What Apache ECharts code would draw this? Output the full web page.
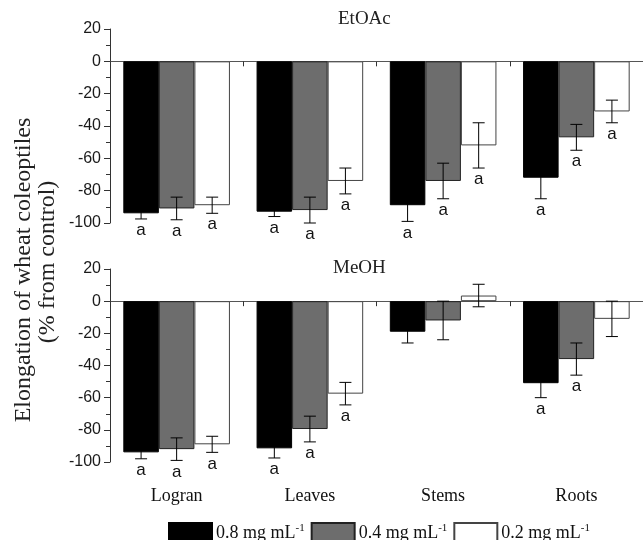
<!DOCTYPE html>
<html>
<head>
<meta charset="utf-8">
<script src="https://cdn.jsdelivr.net/npm/echarts@6/dist/echarts.min.js"></script>
<style>
    html, body { margin: 0; padding: 0; background: #fff; }
    #chart { width: 643px; height: 540px; }
</style>
</head>
<body>
<div id="chart"></div>
<script>
// categories and doses
const categories = ['Logran', 'Leaves', 'Stems', 'Roots'];
const doses = ['0.8 mg mL-1', '0.4 mg mL-1', '0.2 mg mL-1'];
const yTicks = [-100, -80, -60, -40, -20, 0, 20];

// EtOAc extract: mean % and error
const etoac08 = [-94, -93, -89, -72];
const etoac04 = [-91, -92, -74, -47];
const etoac02 = [-89, -74, -52, -31];
const etoac08Err = [3.5, 3, 10, 13];
const etoac04Err = [7, 8, 11, 8];
const etoac02Err = [5, 8, 14, 7];
const etoac08Let = ['a', 'a', 'a', 'a'];
const etoac04Let = ['a', 'a', 'a', 'a'];
const etoac02Let = ['a', 'a', 'a', 'a'];

// MeOH extract
const meoh08 = [-94, -91.5, -19, -51];
const meoh04 = [-92, -79.5, -12, -36];
const meoh02 = [-89, -57.5, 3.5, -11];
const meoh08Err = [4, 6, 7, 9];
const meoh04Err = [7, 8, 12, 10];
const meoh02Err = [5, 7, 7, 11];
const meoh08Let = ['a', 'a', '', 'a'];
const meoh04Let = ['a', 'a', '', 'a'];
const meoh02Let = ['a', 'a', '', ''];

const fills = ['#000000', '#6d6d6d', '#ffffff'];
const borders = ['#000000', '#222222', '#444444'];
const serif = '"Liberation Serif", "Times New Roman", serif';
const sans = '"Liberation Sans", Arial, sans-serif';

let myChart = echarts.init(document.getElementById('chart'));

function barSeries(k, values, xIdx, yIdx) {
    return {
        name: doses[k],
        type: 'bar',
        xAxisIndex: xIdx,
        yAxisIndex: yIdx,
        data: values,
        barGap: '0%',
        barCategoryGap: '20%',
        itemStyle: { color: fills[k], borderColor: borders[k], borderWidth: 1 },
        z: 2
    };
}

function errSeries(k, values, errs, letters, xIdx, yIdx) {
    return {
        type: 'custom',
        xAxisIndex: xIdx,
        yAxisIndex: yIdx,
        z: 5,
        silent: true,
        data: values.map((v, i) => [i, v, errs[i]]),
        renderItem: function (params, api) {
            let ci = api.value(0), m = api.value(1), e = api.value(2);
            let band = api.size([1, 0])[0];
            let bw = band * 0.8 / 3;
            let off = (k - 1) * bw;
            let hi = api.coord([ci, m + e]);
            let lo = api.coord([ci, m - e]);
            let x = hi[0] + off;
            let cap = 6;
            let st = { stroke: '#000', lineWidth: 1 };
            let kids = [
                { type: 'line', shape: { x1: x, y1: hi[1], x2: x, y2: lo[1] }, style: st },
                { type: 'line', shape: { x1: x - cap, y1: hi[1], x2: x + cap, y2: hi[1] }, style: st },
                { type: 'line', shape: { x1: x - cap, y1: lo[1], x2: x + cap, y2: lo[1] }, style: st }
            ];
            let txt = letters[params.dataIndex];
            if (txt) {
                kids.push({
                    type: 'text',
                    style: {
                        text: txt, x: x, y: lo[1] + 3,
                        fill: '#111', fontSize: 17, fontFamily: sans,
                        align: 'center', verticalAlign: 'top'
                    }
                });
            }
            return { type: 'group', children: kids };
        }
    };
}

function yAxis(gi) {
    return {
        type: 'value',
        gridIndex: gi,
        min: -100,
        max: 20,
        interval: 20,
        axisLine: { show: true, lineStyle: { color: '#333', width: 1 } },
        axisTick: { show: true, length: 6, lineStyle: { color: '#333' } },
        minorTick: { show: true, splitNumber: 2, length: 4, lineStyle: { color: '#333' } },
        splitLine: { show: false },
        axisLabel: { color: '#1a1a1a', fontSize: 16, fontFamily: sans, margin: 9 }
    };
}

function zeroAxis(gi) {
    return {
        type: 'category',
        gridIndex: gi,
        data: categories,
        position: 'bottom',
        axisLine: { show: true, onZero: true, lineStyle: { color: '#555', width: 1 } },
        axisTick: { show: true, length: 5, lineStyle: { color: '#333' } },
        axisLabel: { show: false }
    };
}

let option = {
    animation: false,
    backgroundColor: '#fff',
    title: [
        { text: 'EtOAc', left: 338, top: 10, padding: 0,
          textStyle: { fontFamily: serif, fontSize: 19, fontWeight: 'normal', color: '#222' } },
        { text: 'MeOH', left: 333, top: 259, padding: 0,
          textStyle: { fontFamily: serif, fontSize: 19, fontWeight: 'normal', color: '#222' } }
    ],
    grid: [
        { left: 110, top: 29, width: 542, height: 194 },
        { left: 110, top: 269, width: 542, height: 193 }
    ],
    legend: {
        data: doses,
        left: 168,
        top: 522,
        padding: 0,
        itemWidth: 43,
        itemHeight: 20,
        itemGap: 6,
        icon: 'rect',
        formatter: function (name) {
            return '{t|' + name.replace('-1', '') + '}{s|-1}';
        },
        textStyle: {
            padding: [0, 0, 0, -1],
            rich: {
                t: { fontFamily: serif, fontSize: 18, color: '#111', lineHeight: 20 },
                s: { fontFamily: serif, fontSize: 11, color: '#111', verticalAlign: 'top', lineHeight: 11 }
            }
        }
    },
    xAxis: [
        zeroAxis(0),
        zeroAxis(1),
        {
            type: 'category',
            gridIndex: 1,
            data: categories,
            position: 'bottom',
            axisLine: { show: false, onZero: false },
            axisTick: { show: false },
            axisLabel: { color: '#111', fontFamily: serif, fontSize: 18, margin: 25 }
        }
    ],
    yAxis: [yAxis(0), yAxis(1)],
    graphic: [
        {
            type: 'text', x: 24, y: 270, rotation: Math.PI / 2,
            style: { text: 'Elongation of wheat coleoptiles', fill: '#222', fontSize: 24, fontFamily: serif,
                     align: 'center', verticalAlign: 'middle' }
        },
        {
            type: 'text', x: 48, y: 262, rotation: Math.PI / 2,
            style: { text: '(% from control)', fill: '#222', fontSize: 24, fontFamily: serif,
                     align: 'center', verticalAlign: 'middle' }
        }
    ],
    series: [
        barSeries(0, etoac08, 0, 0),
        barSeries(1, etoac04, 0, 0),
        barSeries(2, etoac02, 0, 0),
        barSeries(0, meoh08, 1, 1),
        barSeries(1, meoh04, 1, 1),
        barSeries(2, meoh02, 1, 1),
        errSeries(0, etoac08, etoac08Err, etoac08Let, 0, 0),
        errSeries(1, etoac04, etoac04Err, etoac04Let, 0, 0),
        errSeries(2, etoac02, etoac02Err, etoac02Let, 0, 0),
        errSeries(0, meoh08, meoh08Err, meoh08Let, 1, 1),
        errSeries(1, meoh04, meoh04Err, meoh04Let, 1, 1),
        errSeries(2, meoh02, meoh02Err, meoh02Let, 1, 1)
    ]
};
myChart.setOption(option);
</script>
</body>
</html>
